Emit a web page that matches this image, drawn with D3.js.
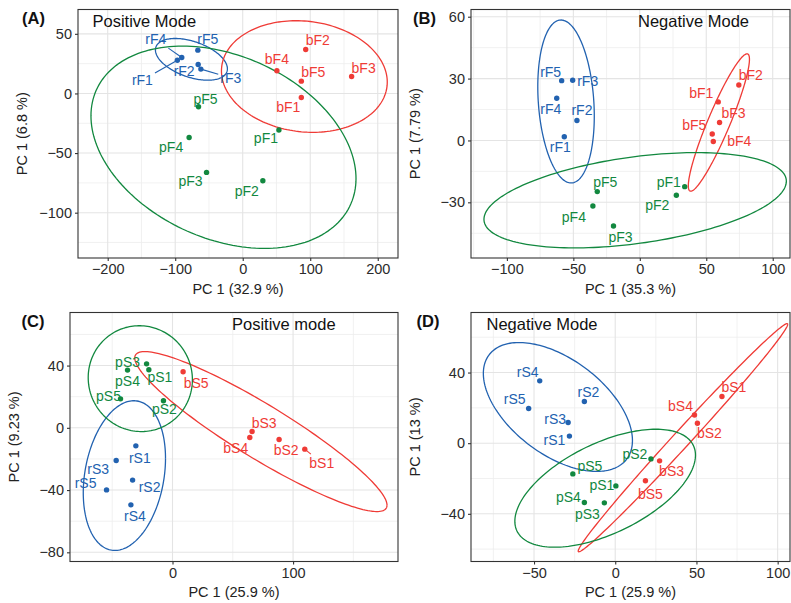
<!DOCTYPE html>
<html>
<head>
<meta charset="utf-8">
<script src="https://cdnjs.cloudflare.com/ajax/libs/d3/7.8.5/d3.min.js"></script>
<style>
    body { margin: 0; background: #fff; }
    svg text { font-family: "Liberation Sans", Arial, Helvetica, sans-serif; }
</style>
</head>
<body>
<div id="vis"></div>
<script>
// ---- (A) positive mode, F samples ----
var aNames = ['rF1', 'rF2', 'rF3', 'rF4', 'rF5', 'bF1', 'bF2', 'bF3', 'bF4', 'bF5', 'pF1', 'pF2', 'pF3', 'pF4', 'pF5'];
var aPC1 = [-96.8, -66, -62, -90.3, -66.5, 86.8, 93.3, 161.3, 50.6, 86.8, 53.6, 29.8, -53.6, -79.4, -65.5];
var aPC2 = [27.9, 24.3, 20.4, 30.2, 36.3, -3.4, 36.9, 14.2, 19, 10.3, -30.7, -73.2, -66.2, -36.9, -11.2];

// ---- (B) negative mode, F samples ----
var bNames = ['rF1', 'rF2', 'rF3', 'rF4', 'rF5', 'bF1', 'bF2', 'bF3', 'bF4', 'bF5', 'pF1', 'pF2', 'pF3', 'pF4', 'pF5'];
var bPC1 = [-56.8, -47.3, -50.5, -62.5, -58.8, 59, 74.5, 60, 55.3, 54.5, 33.8, 27.5, -19.8, -35.3, -32];
var bPC2 = [1.8, 9.7, 29.2, 20.5, 29.0, 18.7, 26.9, 8.7, -0.5, 3.1, -22.4, -26.6, -41.5, -31.8, -24.8];

// ---- (C) positive mode, S samples ----
var cNames = ['rS1', 'rS2', 'rS3', 'rS4', 'rS5', 'bS1', 'bS2', 'bS3', 'bS4', 'bS5', 'pS1', 'pS2', 'pS3', 'pS4', 'pS5'];
var cPC1 = [-30.4, -33.1, -46.7, -34.5, -54.7, 109.7, 88.4, 66, 64.1, 8.8, -19.6, -7.5, -21.5, -37.3, -43.1];
var cPC2 = [-11.6, -33.6, -21, -49.5, -39.9, -13.7, -7.5, -2.4, -6.2, 36, 37.3, 17.4, 41.1, 37.1, 18.6];

// ---- (D) negative mode, S samples ----
var dNames = ['rS1', 'rS2', 'rS3', 'rS4', 'rS5', 'bS1', 'bS2', 'bS3', 'bS4', 'bS5', 'pS1', 'pS2', 'pS3', 'pS4', 'pS5'];
var dPC1 = [-28.2, -19, -29, -46.5, -53.3, 65.7, 50.6, 27.3, 48.8, 18.6, 0.4, 22, -6.7, -19, -26.1];
var dPC2 = [4, 23.6, 11.7, 35.3, 19.6, 26.4, 11.3, -10, 16, -21.3, -24.2, -8.9, -33.8, -33.6, -17.4];

// ellipses per group (r, b, p): centre, spread on each axis, correlation
var groups = ['r', 'b', 'p'];
var aEllCx = [-76, 91.3, -28.5], aEllCy = [28.6, 14.2, -45.1], aEllSx = [53.3, 122.8, 196.3], aEllSy = [17.5, 46.8, 84.8], aEllR = [-0.45, -0.1, -0.31];
var bEllCx = [-55.5, 59.5, -3.5], bEllCy = [18.9, 8.7, -29], bEllSx = [21.25, 23.0, 113.75], bEllSy = [39.5, 33.3, 23.1], bEllR = [-0.18, 0.92, 0.4];
var cEllCx = [-39.9, 73.3, -26.7], cEllCy = [-30.7, -2.4, 31.6], cEllSx = [34.1, 104.6, 43.2], cEllSy = [48.1, 51.4, 34], cEllR = [0.23, -0.92, -0.02];
var dEllCx = [-35.3, 41.7, -6.2], dEllCy = [20.5, 3.1, -25.5], dEllSx = [45.9, 64.5, 55.6], dEllSy = [36.5, 64.6, 33.4], dEllR = [-0.52, 0.994, 0.56];

// axis breaks
var aXTicks = [-200, -100, 0, 100, 200], aXMinor = [-150, -50, 50, 150], aYTicks = [-100, -50, 0, 50], aYMinor = [-125, -75, -25, 25];
var bXTicks = [-100, -50, 0, 50, 100], bXMinor = [-125, -75, -25, 25, 75], bYTicks = [-30, 0, 30, 60], bYMinor = [-45, -15, 15, 45];
var cXTicks = [0, 100], cXMinor = [-50, 50, 150], cYTicks = [-80, -40, 0, 40], cYMinor = [-60, -20, 20, 60];
var dXTicks = [-50, 0, 50, 100], dXMinor = [-75, -25, 25, 75], dYTicks = [-40, 0, 40], dYMinor = [-60, -20, 20, 60];

var colors = { r: '#2262b0', b: '#ef3b36', p: '#12883f' };

// label nudges in pixels (label centre relative to point), and which labels get a segment
var nudges = {
    A: { rF1: [-35, 20], rF2: [-14, 7], rF3: [30, 9], rF4: [-26, -18], rF5: [10, -11],
         bF1: [-13, 10], bF2: [12, -9], bF3: [12, -8], bF4: [0, -12], bF5: [12, -9],
         pF1: [-13, 8], pF2: [-16, 10], pF3: [-16, 9], pF4: [-18, 10], pF5: [7, -8] },
    B: { rF1: [-4, 10], rF2: [5, -10], rF3: [15, 1], rF4: [-6, 11], rF5: [-11, -9],
         bF1: [-17, -9], bF2: [12, -10], bF3: [14, -9], bF4: [26, 0], bF5: [-18, -9],
         pF1: [-16, -5], pF2: [-19, 10], pF3: [7, 11], pF4: [-19, 11], pF5: [8, -9] },
    C: { rS1: [4, 12], rS2: [17, 7], rS3: [-18, 9], rS4: [4, 11], rS5: [-21, -7],
         bS1: [17, 14], bS2: [7, 11], bS3: [12, -8], bS4: [-14, 11], bS5: [13, 11],
         pS1: [11, 7], pS2: [1, 8], pS3: [-19, -2], pS4: [0, 11], pS5: [-12, -3] },
    D: { rS1: [-15, 4], rS2: [4, -9], rS3: [-13, -3], rS4: [-12, -9], rS5: [-14, -9],
         bS1: [12, -9], bS2: [12, 10], bS3: [12, 10], bS4: [-14, -9], bS5: [5, 13],
         pS1: [-14, -1], pS2: [-16, -5], pS3: [-17, 11], pS4: [-16, -5], pS5: [17, -8] }
};
var segments = { A: ['rF1', 'rF3', 'rF4'], B: [], C: ['bS1'], D: [] };

var panels = [
    { id: 'A', tag: '(A)', title: 'Positive Mode', names: aNames, pc1: aPC1, pc2: aPC2,
      ell: [aEllCx, aEllCy, aEllSx, aEllSy, aEllR], xTicks: aXTicks, xMinor: aXMinor, yTicks: aYTicks, yMinor: aYMinor,
      xLab: 'PC 1 (32.9 %)', yLab: 'PC 1 (6.8 %)', xDom: [-244, 230], yDom: [-138, 70.4],
      left: 78, right: 398, top: 9.5, bottom: 258, tagX: 22, titleX: 92.5 },
    { id: 'B', tag: '(B)', title: 'Negative Mode', names: bNames, pc1: bPC1, pc2: bPC2,
      ell: [bEllCx, bEllCy, bEllSx, bEllSy, bEllR], xTicks: bXTicks, xMinor: bXMinor, yTicks: bYTicks, yMinor: bYMinor,
      xLab: 'PC 1 (35.3 %)', yLab: 'PC 1 (7.79 %)', xDom: [-127, 113], yDom: [-57, 63.5],
      left: 471, right: 790, top: 9.5, bottom: 258, tagX: 413, titleX: 638 },
    { id: 'C', tag: '(C)', title: 'Positive mode', names: cNames, pc1: cPC1, pc2: cPC2,
      ell: [cEllCx, cEllCy, cEllSx, cEllSy, cEllR], xTicks: cXTicks, xMinor: cXMinor, yTicks: cYTicks, yMinor: cYMinor,
      xLab: 'PC 1 (25.9 %)', yLab: 'PC 1 (9.23 %)', xDom: [-85, 187], yDom: [-85.9, 74.1],
      left: 70, right: 398, top: 312.5, bottom: 561.5, tagX: 21.5, titleX: 232 },
    { id: 'D', tag: '(D)', title: 'Negative Mode', names: dNames, pc1: dPC1, pc2: dPC2,
      ell: [dEllCx, dEllCy, dEllSx, dEllSy, dEllR], xTicks: dXTicks, xMinor: dXMinor, yTicks: dYTicks, yMinor: dYMinor,
      xLab: 'PC 1 (25.9 %)', yLab: 'PC 1 (13 %)', xDom: [-88.8, 107.6], yDom: [-67, 74],
      left: 471, right: 790, top: 312.5, bottom: 561.5, tagX: 416.5, titleX: 486.5 }
];

var svg = d3.select('#vis').append('svg')
    .attr('width', 791)
    .attr('height', 603);

var drawPanel = function (p) {
    var xScale = d3.scaleLinear().domain(p.xDom).range([p.left, p.right]);
    var yScale = d3.scaleLinear().domain(p.yDom).range([p.bottom, p.top]);
    var g = svg.append('g');

    // clip to the plot area
    svg.append('clipPath').attr('id', 'clip' + p.id)
        .append('rect')
        .attr('x', p.left).attr('y', p.top)
        .attr('width', p.right - p.left).attr('height', p.bottom - p.top);

    // grid: minor then major
    var grid = g.append('g');
    grid.selectAll('.vmin').data(p.xMinor).enter().append('line')
        .attr('x1', xScale).attr('x2', xScale).attr('y1', p.top).attr('y2', p.bottom)
        .attr('stroke', '#eeeeee').attr('stroke-width', 0.8);
    grid.selectAll('.hmin').data(p.yMinor).enter().append('line')
        .attr('y1', yScale).attr('y2', yScale).attr('x1', p.left).attr('x2', p.right)
        .attr('stroke', '#eeeeee').attr('stroke-width', 0.8);
    grid.selectAll('.vmaj').data(p.xTicks).enter().append('line')
        .attr('x1', xScale).attr('x2', xScale).attr('y1', p.top).attr('y2', p.bottom)
        .attr('stroke', '#e4e4e4').attr('stroke-width', 1.1);
    grid.selectAll('.hmaj').data(p.yTicks).enter().append('line')
        .attr('y1', yScale).attr('y2', yScale).attr('x1', p.left).attr('x2', p.right)
        .attr('stroke', '#e4e4e4').attr('stroke-width', 1.1);

    // ellipses
    var line = d3.line()
        .x(function (d) { return xScale(d[0]); })
        .y(function (d) { return yScale(d[1]); });
    var ellData = groups.map(function (grp, i) {
        var cx = p.ell[0][i], cy = p.ell[1][i], sx = p.ell[2][i], sy = p.ell[3][i], r = p.ell[4][i];
        var pts = d3.range(0, 181).map(function (k) {
            var t = 2 * Math.PI * k / 180;
            return [cx + sx * Math.cos(t), cy + sy * (r * Math.cos(t) + Math.sqrt(1 - r * r) * Math.sin(t))];
        });
        return { grp: grp, pts: pts };
    });
    g.append('g').attr('clip-path', 'url(#clip' + p.id + ')')
        .selectAll('path').data(ellData).enter().append('path')
        .attr('d', function (d) { return line(d.pts); })
        .attr('fill', 'none')
        .attr('stroke', function (d) { return colors[d.grp]; })
        .attr('stroke-width', 1.3);

    var pts = p.names.map(function (n, i) {
        return { name: n, grp: n.charAt(0), x: xScale(p.pc1[i]), y: yScale(p.pc2[i]) };
    });

    // points
    g.selectAll('circle').data(pts).enter().append('circle')
        .attr('cx', function (d) { return d.x; })
        .attr('cy', function (d) { return d.y; })
        .attr('r', 2.7)
        .attr('fill', function (d) { return colors[d.grp]; });

    // labels (+ segments for repelled ones)
    pts.forEach(function (d) {
        var nd = nudges[p.id][d.name];
        var lx = d.x + nd[0], ly = d.y + nd[1];
        var t = g.append('text')
            .attr('x', lx).attr('y', ly).attr('dy', '0.35em')
            .attr('text-anchor', 'middle')
            .style('font-size', '14px')
            .attr('fill', colors[d.grp])
            .text(d.name);
        if (segments[p.id].indexOf(d.name) >= 0) {
            var bb = t.node().getBBox();
            var hw = bb.width / 2 + 2, hh = bb.height / 2 + 1;
            var vx = d.x - lx, vy = d.y - ly;
            var s = Math.min(hw / Math.abs(vx), hh / Math.abs(vy));
            if (s < 1) {
                g.append('line')
                    .attr('x1', lx + s * vx).attr('y1', ly + s * vy)
                    .attr('x2', d.x).attr('y2', d.y)
                    .attr('stroke', colors[d.grp]).attr('stroke-width', 1.1);
            }
        }
    });

    // panel border
    g.append('rect')
        .attr('x', p.left).attr('y', p.top)
        .attr('width', p.right - p.left).attr('height', p.bottom - p.top)
        .attr('fill', 'none').attr('stroke', '#333').attr('stroke-width', 1.1);

    // axes
    var xAxis = d3.axisBottom(xScale).tickValues(p.xTicks).tickSize(3).tickPadding(3);
    var yAxis = d3.axisLeft(yScale).tickValues(p.yTicks).tickSize(3).tickPadding(3);
    var xg = g.append('g').attr('transform', 'translate(0,' + p.bottom + ')').call(xAxis);
    var yg = g.append('g').attr('transform', 'translate(' + p.left + ',0)').call(yAxis);
    [xg, yg].forEach(function (ax) {
        ax.select('.domain').remove();
        ax.selectAll('line').attr('stroke', '#333').attr('stroke-width', 1.1);
        ax.selectAll('text').attr('fill', '#2b2b2b').style('font-size', '14.5px')
            .style('font-family', '"Liberation Sans", Arial, sans-serif');
    });

    // axis titles
    g.append('text')
        .attr('x', (p.left + p.right) / 2).attr('y', p.bottom + 35.5)
        .attr('text-anchor', 'middle').style('font-size', '14.5px').attr('fill', '#222')
        .text(p.xLab);
    g.append('text')
        .attr('transform', 'translate(' + (p.left - 51) + ',' + ((p.top + p.bottom) / 2) + ') rotate(-90)')
        .attr('text-anchor', 'middle').style('font-size', '14.5px').attr('fill', '#222')
        .text(p.yLab);

    // panel tag and in-plot title
    g.append('text')
        .attr('x', p.tagX).attr('y', p.top + 14.5)
        .style('font-size', '16.5px').style('font-weight', 'bold').attr('fill', '#111')
        .text(p.tag);
    g.append('text')
        .attr('x', p.titleX).attr('y', p.top + 17.5)
        .style('font-size', '16.5px').attr('fill', '#111')
        .text(p.title);
};

panels.forEach(drawPanel);
</script>
</body>
</html>
